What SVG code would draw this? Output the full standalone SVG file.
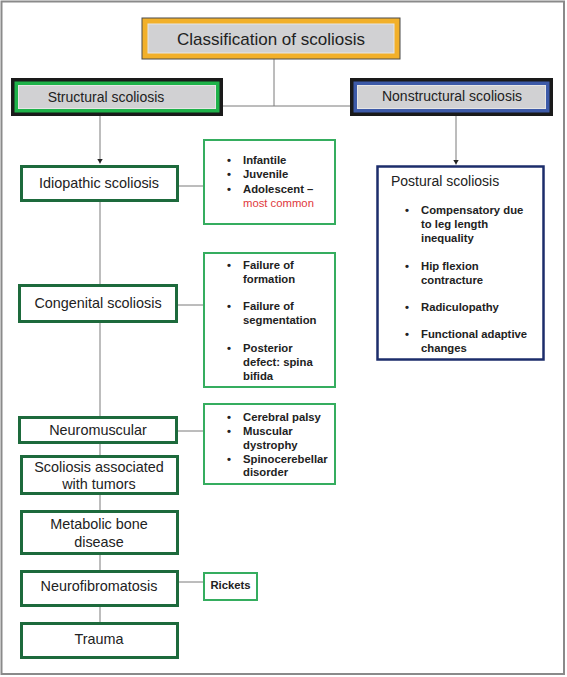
<svg xmlns="http://www.w3.org/2000/svg" width="567" height="677" viewBox="0 0 567 677">
<defs>
<style>
text{font-family:"Liberation Sans",Arial,sans-serif;fill:#222}
.main{font-size:14.4px;text-anchor:middle}
.hdr{font-size:14px;text-anchor:middle}
.sm{font-size:11.3px;font-weight:bold}
.red{fill:#e0383c;font-weight:normal}
.mbox{fill:#fff;stroke:#1d6a3c;stroke-width:3}
.sbox{fill:#fff;stroke:#35ad5f;stroke-width:2}
.ln{stroke:#7a7a7a;stroke-width:1;fill:none}
.vl{stroke:#9a9a9a;stroke-width:1.3;fill:none}
.gray{fill:#d1d1d3;stroke:#e6e6e6;stroke-width:1}
</style>
<marker id="arr" markerWidth="6" markerHeight="6" refX="5" refY="3" orient="auto" markerUnits="userSpaceOnUse">
<path d="M0,0 L5,3 L0,6 Z" fill="#222"/>
</marker>
</defs>
<rect x="0" y="0" width="567" height="677" fill="#fff"/>
<rect x="1.5" y="1.5" width="562.5" height="672.5" fill="none" stroke="#8a8a8a" stroke-width="2"/>

<g id="connectors">
<path class="ln" d="M274,59 V106 M223,106 H350"/>
<path class="vl" d="M100,116 V163.5" marker-end="url(#arr)"/>
<path class="ln" d="M456,116 V164.5" marker-end="url(#arr)"/>
<path class="vl" d="M100,201 V623"/>
<path class="ln" d="M178,186 H204 M177,305 H204 M177,431 H204 M178,582 H204"/>
</g>

<g id="title">
<rect x="142" y="18" width="258" height="41" fill="#f2b02a" stroke="#4a4a4a" stroke-width="1"/>
<rect x="148" y="24" width="246" height="29" class="gray"/>
<text x="271" y="45" font-size="17" text-anchor="middle">Classification of scoliosis</text>
</g>

<g id="structural">
<rect x="11" y="78" width="212" height="38" fill="#1a1a1a"/>
<rect x="14.5" y="81.5" width="205" height="31" fill="#1fb24a"/>
<rect x="18.5" y="85.5" width="197" height="23" class="gray"/>
<text class="hdr" x="106" y="102">Structural scoliosis</text>
</g>

<g id="nonstructural">
<rect x="350" y="78" width="203" height="38" fill="#1a1a1a"/>
<rect x="353.5" y="81.5" width="196" height="31" fill="#3d5aa8"/>
<rect x="357.5" y="85.5" width="188" height="23" class="gray"/>
<text class="hdr" x="452" y="101">Nonstructural scoliosis</text>
</g>

<g id="idiopathic">
<rect class="mbox" x="21.5" y="166.5" width="156" height="34"/>
<text class="main" x="99" y="188">Idiopathic scoliosis</text>
</g>
<g id="idiopathic-types">
<rect class="sbox" x="204" y="140" width="131" height="84"/>
<text class="sm"><tspan x="227" y="164">•</tspan><tspan x="243" y="164">Infantile</tspan><tspan x="227" y="178">•</tspan><tspan x="243" y="178">Juvenile</tspan><tspan x="227" y="193">•</tspan><tspan x="243" y="193">Adolescent –</tspan></text>
<text class="sm red" x="243" y="207">most common</text>
</g>

<g id="congenital">
<rect class="mbox" x="19.5" y="285.5" width="157" height="36"/>
<text class="main" x="98" y="308">Congenital scoliosis</text>
</g>
<g id="congenital-types">
<rect class="sbox" x="204" y="253" width="131" height="134"/>
<text class="sm"><tspan x="227" y="269">•</tspan><tspan x="243" y="269">Failure of</tspan><tspan x="243" y="283">formation</tspan><tspan x="227" y="310">•</tspan><tspan x="243" y="310">Failure of</tspan><tspan x="243" y="324">segmentation</tspan><tspan x="227" y="352">•</tspan><tspan x="243" y="352">Posterior</tspan><tspan x="243" y="366">defect: spina</tspan><tspan x="243" y="380">bifida</tspan></text>
</g>

<g id="neuromuscular">
<rect class="mbox" x="19.5" y="417.5" width="157" height="25"/>
<text class="main" x="98" y="435">Neuromuscular</text>
</g>
<g id="neuromuscular-types">
<rect class="sbox" x="204" y="404" width="131" height="80"/>
<text class="sm"><tspan x="227" y="421">•</tspan><tspan x="243" y="421">Cerebral palsy</tspan><tspan x="227" y="435">•</tspan><tspan x="243" y="435">Muscular</tspan><tspan x="243" y="449">dystrophy</tspan><tspan x="227" y="463">•</tspan><tspan x="243" y="463">Spinocerebellar</tspan><tspan x="243" y="476">disorder</tspan></text>
</g>

<g id="tumors">
<rect class="mbox" x="21.5" y="456.5" width="156" height="37"/>
<text class="main" x="99" y="472">Scoliosis associated</text>
<text class="main" x="99" y="489">with tumors</text>
</g>

<g id="metabolic">
<rect class="mbox" x="21.5" y="511.5" width="156" height="42"/>
<text class="main" x="99" y="529">Metabolic bone</text>
<text class="main" x="99" y="547">disease</text>
</g>

<g id="neurofibromatosis">
<rect class="mbox" x="21.5" y="571.5" width="156" height="34"/>
<text class="main" x="99" y="591">Neurofibromatosis</text>
</g>
<g id="rickets">
<rect class="sbox" x="204" y="573" width="53" height="27"/>
<text class="sm" x="230.5" y="589" text-anchor="middle">Rickets</text>
</g>

<g id="trauma">
<rect class="mbox" x="21.5" y="623.5" width="156" height="34"/>
<text class="main" x="99" y="644">Trauma</text>
</g>

<g id="postural">
<rect x="377.5" y="166.5" width="166" height="193" fill="#fff" stroke="#1c2d6b" stroke-width="2.5"/>
<text x="391" y="186" font-size="14">Postural scoliosis</text>
<text class="sm"><tspan x="405" y="214">•</tspan><tspan x="421" y="214">Compensatory due</tspan><tspan x="421" y="228">to leg length</tspan><tspan x="421" y="242">inequality</tspan><tspan x="405" y="270">•</tspan><tspan x="421" y="270">Hip flexion</tspan><tspan x="421" y="284">contracture</tspan><tspan x="405" y="311">•</tspan><tspan x="421" y="311">Radiculopathy</tspan><tspan x="405" y="338">•</tspan><tspan x="421" y="338">Functional adaptive</tspan><tspan x="421" y="352">changes</tspan></text>
</g>
</svg>
